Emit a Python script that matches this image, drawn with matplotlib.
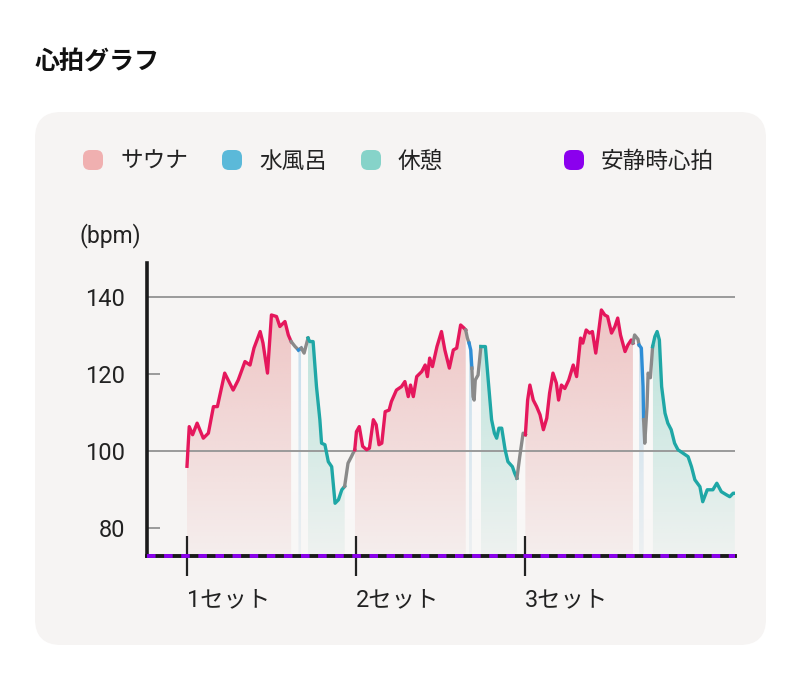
import numpy as np
import matplotlib
matplotlib.use('Agg')
from matplotlib import pyplot as plt
from matplotlib import colors as mcolors
from matplotlib.patches import FancyBboxPatch

plt.rcParams['font.family'] = ['Roboto', 'Noto Sans CJK JP', 'DejaVu Sans']

# time in minutes from the start of set 1, heart rate in bpm
s1_sauna_t = [0.0, 0.4, 1.0, 1.8, 2.9, 3.8, 4.7, 5.4, 6.7, 8.2, 9.1, 10.3, 11.2, 11.9, 13.0, 13.5,
              14.3, 15.0, 15.9, 16.5, 17.4, 18.0, 18.5]
s1_sauna_bpm = [96, 106.3, 104.2, 107.2, 103.3, 104.6, 111.5, 111.5, 120.2, 115.8, 118.4, 123.2, 122.3,
                126.7, 131.0, 128.0, 120.2, 135.3, 134.9, 132.3, 133.6, 130.1, 128.4]
s1_move1_t = [18.5, 19.2, 19.8]
s1_move1_bpm = [128.4, 127.1, 126.2]
s1_water_t = [19.8, 20.3]
s1_water_bpm = [126.2, 126.7]
s1_move2_t = [20.3, 20.8, 21.5]
s1_move2_bpm = [126.7, 125.4, 129.3]
s1_rest_t = [21.5, 21.8, 22.4, 23.0, 23.6, 23.9, 24.5, 25.1, 25.7, 26.3, 26.9, 27.5, 28.0]
s1_rest_bpm = [129.3, 128.4, 128.4, 116.7, 108.1, 102.0, 101.6, 97.2, 95.9, 86.4, 87.3, 89.9, 90.8]
s1_move3_t = [28.0, 28.6, 29.2, 29.8]
s1_move3_bpm = [90.8, 96.8, 98.5, 100.3]

s2_sauna_t = [29.8, 30.1, 30.6, 31.2, 31.9, 32.4, 33.1, 33.6, 34.1, 34.6, 35.2, 35.9, 36.3, 37.2, 38.1,
              38.7, 39.3, 39.7, 40.2, 40.8, 41.7, 42.3, 42.7, 43.1, 43.6, 44.4, 45.2, 45.8, 46.6, 47.3,
              47.9, 48.6, 49.2, 49.5]
s2_sauna_bpm = [100.3, 105.0, 106.3, 101.2, 100.3, 100.7, 108.1, 106.8, 101.6, 102.0, 110.2, 110.6, 112.8,
                115.8, 116.7, 118.0, 114.1, 117.1, 114.1, 119.3, 120.6, 122.3, 119.3, 124.1, 121.9, 127.1,
                131.0, 126.2, 121.5, 126.2, 126.7, 132.7, 131.9, 131.4]
s2_move1_t = [49.5, 49.8, 50.1]
s2_move1_bpm = [131.4, 129.3, 128.0]
s2_water_t = [50.1, 50.4, 50.6]
s2_water_bpm = [128.0, 126.2, 121.5]
s2_move2_t = [50.6, 50.8, 51.0, 51.2, 51.7, 52.2]
s2_move2_bpm = [121.5, 114.1, 113.2, 118.4, 119.7, 127.1]
s2_rest_t = [52.2, 53.0, 53.5, 54.1, 54.6, 55.0, 55.4, 55.9, 56.5, 57.0, 57.8, 58.2, 58.6]
s2_rest_bpm = [127.1, 127.1, 118.4, 108.1, 104.6, 103.3, 105.9, 105.9, 100.3, 97.2, 95.9, 94.2, 92.9]
s2_move3_t = [58.6, 59.1, 59.7, 60.1]
s2_move3_bpm = [92.9, 98.5, 104.6, 104.2]

s3_sauna_t = [60.1, 60.5, 60.9, 61.5, 62.1, 62.7, 63.3, 63.9, 64.4, 65.0, 65.6, 66.0, 66.5, 67.1, 67.8,
              68.6, 69.2, 69.9, 70.3, 70.9, 71.5, 72.0, 72.6, 73.0, 73.6, 74.2, 74.7, 75.4, 76.0, 76.5,
              77.0, 77.8, 78.3, 78.9, 79.2]
s3_sauna_bpm = [104.2, 113.2, 117.1, 113.2, 111.5, 109.4, 105.5, 108.5, 115.0, 120.2, 117.6, 113.2, 117.1,
                116.2, 118.4, 122.3, 119.3, 129.3, 128.0, 131.4, 130.6, 131.0, 125.4, 129.7, 136.6, 135.3,
                134.9, 130.6, 132.3, 134.5, 130.1, 125.8, 127.5, 128.8, 128.0]
s3_move1_t = [79.2, 79.5, 80.1, 80.3]
s3_move1_bpm = [128.0, 130.1, 129.0, 127.5]
s3_water_t = [80.3, 80.7, 81.0, 81.1]
s3_water_bpm = [127.5, 126.7, 116.7, 108.1]
s3_move2_t = [81.1, 81.3, 81.7, 81.9, 82.3, 82.7]
s3_move2_bpm = [108.1, 102.0, 111.5, 120.2, 119.0, 127.1]
s3_rest_t = [82.7, 83.1, 83.5, 83.9, 84.3, 84.9, 85.4, 86.0, 86.6, 87.2, 88.1, 89.0, 89.6, 90.2, 91.1,
             91.6, 92.4, 93.4, 94.1, 94.9, 95.8, 96.4, 97.0, 97.3]
s3_rest_bpm = [127.1, 129.7, 131.0, 128.8, 116.7, 109.8, 107.2, 105.5, 102.0, 100.3, 99.4, 98.5, 95.9,
               92.5, 90.7, 86.8, 89.9, 89.9, 91.6, 89.4, 88.6, 88.1, 89.0, 89.0]

resting_hr = 72.7
set_starts = [0, 30, 60]
set_labels = ['1セット', '2セット', '3セット']
y_ticks = [80, 100, 120, 140]
grid_values = [100, 140]
legend_labels = ['サウナ', '水風呂', '休憩', '安静時心拍']

line_col = {'sauna': '#e5175c', 'water': '#2f8ed6', 'rest': '#1fa7a6', 'move': '#8a8a8a'}
fill_col = {'sauna': ('#e89c9c', 0.62, 0.07), 'water': ('#9ccbe8', 0.7, 0.1),
            'rest': ('#7cd0c1', 0.6, 0.06), 'move': ('#ffffff', 0.6, 0.3)}

segments = [
    ('sauna', s1_sauna_t, s1_sauna_bpm), ('move', s1_move1_t, s1_move1_bpm),
    ('water', s1_water_t, s1_water_bpm), ('move', s1_move2_t, s1_move2_bpm),
    ('rest', s1_rest_t, s1_rest_bpm), ('move', s1_move3_t, s1_move3_bpm),
    ('sauna', s2_sauna_t, s2_sauna_bpm), ('move', s2_move1_t, s2_move1_bpm),
    ('water', s2_water_t, s2_water_bpm), ('move', s2_move2_t, s2_move2_bpm),
    ('rest', s2_rest_t, s2_rest_bpm), ('move', s2_move3_t, s2_move3_bpm),
    ('sauna', s3_sauna_t, s3_sauna_bpm), ('move', s3_move1_t, s3_move1_bpm),
    ('water', s3_water_t, s3_water_bpm), ('move', s3_move2_t, s3_move2_bpm),
    ('rest', s3_rest_t, s3_rest_bpm),
]

y_lo, y_hi = resting_hr, 148.8
x_lo, x_hi = -7.1, 97.33

fig = plt.figure(figsize=(8, 6.81), dpi=100)
fig.patch.set_facecolor('white')

# background layer in pixel coordinates: card, title, legend
bg = fig.add_axes([0, 0, 1, 1])
bg.set_xlim(0, 800)
bg.set_ylim(681, 0)
bg.axis('off')
bg.set_zorder(0)
bg.add_patch(FancyBboxPatch((35, 112), 731, 533, boxstyle='round,pad=0,rounding_size=26',
                            fc='#f6f4f3', ec='none'))
bg.text(35, 62, '心拍グラフ', fontsize=18, fontweight='semibold', va='center', ha='left', color='#111')

leg_x = [93, 232, 371, 574]
leg_c = ['#f0b0b0', '#5bb9d9', '#86d3c9', '#8b00ee']
for x, c, lab in zip(leg_x, leg_c, legend_labels):
    bg.add_patch(FancyBboxPatch((x - 10, 150), 20, 20, boxstyle='round,pad=0,rounding_size=7',
                                fc=c, ec='none'))
    bg.text(x + 27, 161, lab, fontsize=16.3, va='center', ha='left', color='#222')
bg.text(110, 236, '(bpm)', fontsize=16.5, va='center', ha='center', color='#222')

ax = fig.add_axes([147 / 800, 125 / 681, 588 / 800, 293 / 681])
ax.set_zorder(1)
ax.patch.set_visible(False)

for kind, t, v in segments:
    color, a_top, a_bot = fill_col[kind]
    poly = ax.fill_between(t, v, y_lo, color='none', lw=0)
    img = np.zeros((256, 1, 4))
    img[:, :, :3] = mcolors.to_rgb(color)
    img[:, 0, 3] = np.linspace(a_top, a_bot, 256)
    im = ax.imshow(img, extent=[min(t), max(t), y_lo, y_hi], origin='upper', aspect='auto',
                   interpolation='bilinear', zorder=1)
    im.set_clip_path(poly.get_paths()[0], transform=ax.transData)

for g in grid_values:
    ax.axhline(g, color='#9a9a9a', lw=1.4, zorder=2.5)

for kind, t, v in segments:
    ax.plot(t, v, color=line_col[kind], lw=2.4, zorder=3, solid_joinstyle='round')

ax.set_xlim(x_lo, x_hi)
ax.set_ylim(y_lo, y_hi)

for s in ['top', 'right']:
    ax.spines[s].set_visible(False)
ax.spines['left'].set_linewidth(2.6)
ax.spines['left'].set_color('#1a1a1a')
ax.spines['bottom'].set_linewidth(2.8)
ax.spines['bottom'].set_color('#1a1a1a')
ax.axhline(resting_hr, color='#8b00ee', lw=2.8, ls=(0, (2.2, 2.2)), zorder=4, clip_on=False)

ax.set_yticks(y_ticks)
ax.set_yticklabels([str(v) for v in y_ticks])
ax.tick_params(axis='y', direction='in', length=9.5, width=1.4, color='#9a9a9a', pad=16,
               labelsize=17, labelcolor='#222')
ax.set_xticks(set_starts)
ax.set_xticklabels(set_labels)
ax.tick_params(axis='x', direction='inout', length=29, width=1.6, color='#222', pad=9,
               labelsize=16.8, labelcolor='#222')
for lab in ax.get_xticklabels():
    lab.set_ha('left')

fig.savefig('out.png', dpi=100, facecolor='white')
